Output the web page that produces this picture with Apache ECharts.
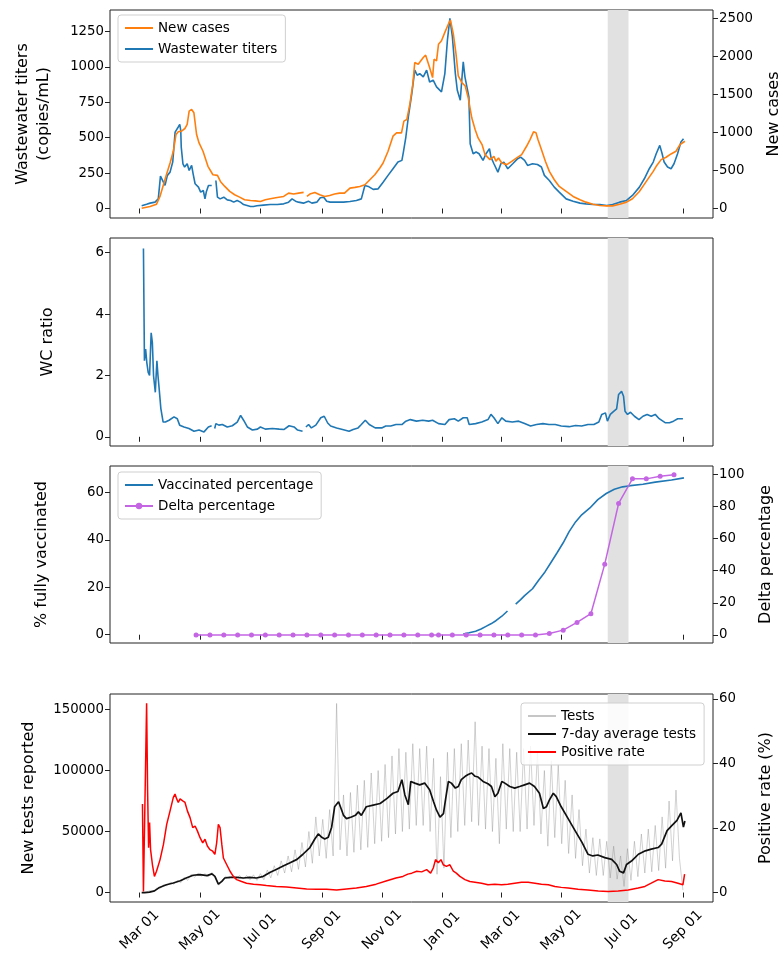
<!DOCTYPE html>
<html><head><meta charset="utf-8">
<script src="https://cdn.jsdelivr.net/npm/echarts@6/dist/echarts.min.js"></script>
<style>html,body{margin:0;padding:0;background:#fff}#c{width:784px;height:968px}</style>
</head><body><div id="c"></div>
<script>
// ---- data (x values are days since 2020-03-01) ----
const xTickDates = ['2020-03-01','2020-05-01','2020-07-01','2020-09-01','2020-11-01','2021-01-01','2021-03-01','2021-05-01','2021-07-01','2021-09-01'];
const bandDates = ['2021-06-17','2021-07-08'];

const wwDays = [2,4,7,10.5,15.5,18.8,21,23,25.6,28,30.7,33.4,35.8,37.5,39,40.5,41.5,42,43.7,45.4,48,50,52.5,54,56,57.7,59.4,61.6,64.3,66,67.3,69.5,72.8,74.5,77,78.6,81.3,85,88.5,91.8,95,98.5,101.8,105,108.5,112,115,118.5,125,132,139,145.5,150.5,154,157.5,160.5,165.5,170.5,174,179,182.5,186,189,192.5,199,206,212.5,219,224,227.6,231,236,241,246,251,256,261,265,266.5,269,271.5,275,278,280.5,283,286.6,290,293,296.6,300,305,308.4,311,313.5,316,319,321,324,325.5,327,328.7,330,332.7,334,337,340,343,347,350,353.5,355,358,362,365,368,372,377,382,385,389,392,397,402,406,409,414,419,424,431,438,445,451,458,465,472,478,485,492,498,505,510,515,519,522,525.6,528,530,533.5,537,540,543.6,547,549.6];
const wwTiters = [20,21,30,38,45,68,229,222,163,234,257,328,540,540,576,595,552,434,316,293,316,269,304,245,175,163,151,116,127,68,116,163,163,null,198,80,68,80,61,57,45,57,45,28,21,14,14,19,24,28,28,33,45,68,52,45,38,52,38,45,76,80,52,45,45,45,50,57,68,163,156,135,139,186,234,281,328,340,399,505,647,812,977,941,953,930,977,894,906,859,824,953,1189,1343,1213,953,835,765,906,1036,930,918,788,458,387,399,387,340,387,422,363,316,257,316,328,281,316,352,363,340,304,316,311,293,234,198,151,116,68,52,38,33,28,28,21,28,45,57,92,151,210,281,328,387,446,387,328,293,281,316,387,470,493];

const caseDays = [2,4,10.5,17,20.5,24,27,30.7,34,36.7,39,42.3,45.7,48,50,52.5,54.8,57.5,60,64,69,74,78.6,81.6,86,91,96,101,106,112,117,122,127,132,139,145.5,150.5,155.6,160.6,165.7,167.3,169,172,177,182,187,192,197,202,207,212.5,217.5,222.5,227.6,232.6,237.6,242.7,246,251,256,259.6,264.6,267,270,273,276,278,281.5,283,286.6,289,293,296,297.5,300,302,305,308.4,312,314,317,319.7,322,325.6,329,332,335.6,339,342,346,349,354,358,360,362.6,365.9,371,376,381,386,391,394.5,398,400.5,402.5,406,410,414,419,424,431,438,445,451,458,465,472,478,485,492,498,505,512,519,522,527,532,537,542,546,551];
const newCases = [4,13,26,57,159,313,445,600,754,975,1010,1019,1054,1107,1283,1305,1261,975,864,754,556,445,437,357,291,225,181,150,115,106,101,93,115,128,146,159,203,190,203,212,null,159,190,212,181,159,172,190,203,203,269,278,291,313,379,445,534,600,754,953,997,997,1151,1173,1371,1636,1923,1901,1879,1989,2020,1857,1724,1967,1945,2165,2209,2320,2430,2483,2298,2033,1746,1658,1614,1460,1195,1041,930,842,710,644,688,622,666,600,578,622,666,710,820,908,1010,997,908,776,622,489,379,291,225,159,115,84,57,40,35,35,57,84,128,225,357,489,556,644,675,719,754,842,886];

const wcDays = [3.8,4.8,6,7.2,8.6,10,11.6,12.8,14,15.8,17.4,18.5,19.7,21.4,23.7,26,29.7,34.7,38,40.4,44.8,49.8,54.9,60,65,69.4,72.7,74,75.8,77,80,83.5,88.5,93.6,98.6,102,105,108.8,113.9,119,122,127,134,141,146,151,156,159.6,164.6,166.5,168,170.7,173.5,178,183,186.5,190,193,199,205,211.6,215.7,220.7,224,228,232,238,244.6,248.7,253.7,259,265,269,273.5,279.7,286,292,296,302,308.5,312.7,318,322,327,331,333,339.5,345.7,352,355,358,362,366,370,376.6,383,389,395,401,407.5,413.7,420,426,434,440.5,446.7,453,459,464,467,470.7,472.7,475.6,479,482,484,487,489,490.5,493,496,500,504.6,508.6,512.8,517,521,525,531,535.4,539.5,543.7,549];
const wcRatio = [6.14,2.48,2.86,2.42,2.1,2.0,3.39,3.07,1.99,1.45,2.48,1.99,1.56,0.92,0.48,0.48,0.54,0.65,0.59,0.38,0.32,0.27,0.18,0.22,0.16,0.32,0.36,null,0.27,0.43,0.38,0.40,0.32,0.36,0.48,0.70,0.54,0.32,0.22,0.25,0.32,0.25,0.27,0.25,0.24,0.36,0.32,0.22,0.18,null,0.32,0.40,0.29,0.38,0.62,0.67,0.45,0.35,0.29,0.24,0.18,0.24,0.29,0.40,0.54,0.40,0.29,0.29,0.35,0.35,0.40,0.40,0.51,0.56,0.51,0.54,0.51,0.54,0.43,0.40,0.56,0.59,0.51,0.62,0.62,0.40,0.43,0.48,0.56,0.73,0.62,0.43,0.62,0.51,0.48,0.51,0.43,0.35,0.40,0.43,0.40,0.40,0.35,0.33,0.37,0.35,0.40,0.40,0.48,0.73,0.78,0.51,0.73,0.83,0.91,1.38,1.48,1.32,0.83,0.73,0.80,0.67,0.56,0.67,0.73,0.67,0.73,0.59,0.46,0.46,0.51,0.59,0.59];

const vaxDays = [327,333,339.5,345,350,355,360,366,371.7,376,380,385,389,397,403,409.6,415.8,422,428,434,440.5,446.7,455,463,471.5,479.7,488,496,508.6,521,537.5,550];
const vaxPct = [0.3,0.8,1.5,2.4,3.5,4.6,5.9,7.8,10,null,12.9,14.8,16.5,19.4,22.9,26.5,30.6,34.7,38.8,43.5,47.6,50.6,53.5,57,59.6,61.4,62.4,62.9,63.5,64.4,65.3,66.2];

const deltaDays = [57,71,85,99,113,127,141,155,169,183,197,211,225,239,253,267,281,295,302,316,330,344,358,372,386,400,414,428,442,456,470,484,498,512,526,540];
const deltaPct = [0,0,0,0,0,0,0,0,0,0,0,0,0,0,0,0,0,0,0,0,0,0,0,0,0,0,0.9,3,7.8,13.2,44,81.7,97,97,98.6,99.6];

// daily tests: samples every half week (peak / trough of weekly cycle)
const testStartDay = 3, testStepDays = 3.5;
const tests = [300,200,1500,800,3500,3000,6500,5500,8500,6800,10000,8000,12500,10000,15000,12500,16000,13500,15500,13000,16500,13000,6000,10000,13500,11500,14000,11500,14000,11000,14000,10500,14500,10000,15500,10500,18500,12000,22000,14000,26000,16000,30000,17000,35000,19000,41000,21000,50000,24000,62000,30000,60000,28000,68000,30000,155000,35000,80000,30000,82000,33000,88000,35000,92000,37000,98000,40000,100000,42000,105000,45000,112000,48000,118000,50000,115000,52000,122000,55000,118000,55000,120000,50000,110000,15000,95000,20000,115000,45000,118000,50000,122000,55000,125000,58000,140000,55000,120000,52000,118000,50000,110000,40000,122000,52000,118000,50000,115000,50000,118000,52000,120000,55000,115000,48000,100000,38000,108000,45000,105000,40000,92000,32000,80000,28000,68000,22000,52000,16000,45000,14000,44000,14000,42000,12000,38000,11000,30000,5000,36000,10000,42000,13000,48000,16000,52000,17000,55000,18000,62000,20000,75000,26000,84000,28000,2000];

const avgDays = [2,5,10,15,20,27,34,41,47,54,61,68,73,76,79.5,83,86,91,98,105,111,118,125,132,138,145,152,159,165,172,177,180.5,184,187,190.6,194,197,201,203,206,209,214,218,221,224,229,236,243,250,256,261,265,268,271.5,274,278,283,288,293,297,300,303.5,307,309,312,315,319,322,325,329,332,335.5,339,342,347,352,355.5,359,362,366,369,374,379,384,389,394,399,404,408,411,414,418,421,426,433,440,447,453,458,463,470,477,482,485,489,492,497,504,511,517,524,527.5,533,538,543,547,549.5,551];
const avgTests = [0,0,300,1400,4200,6400,7800,9700,11900,14200,14700,13900,15300,13300,6900,9200,11900,12500,12500,11900,12500,11900,13300,16700,18900,21700,24400,27200,31400,36900,43900,48000,45300,43900,45300,53600,70300,74400,73000,63300,60600,61900,63300,66100,63300,70300,71700,73000,77200,81400,82800,92500,80000,72000,91100,89700,88300,89700,84200,74400,67500,61900,64700,75800,91100,89700,85600,86900,92500,95300,96700,98000,95300,94700,91100,89200,86900,78600,81400,91100,89700,86900,85600,86900,88300,89700,86900,81400,68900,70300,75800,81400,78600,70300,60600,50800,41100,31400,30000,30800,28600,27200,23000,17500,16100,23000,25800,31400,34200,35600,36900,39700,50800,55000,59200,65300,53600,58600];

const posDays = [2.8,3.8,5.5,7,8,9,10,11,12.9,14.9,17,20.6,24,27.3,30.7,34,35.7,37.4,39,40.8,43.5,45.8,48.2,50.9,53.6,56,58.3,61,63.7,66,68.4,71,73.8,76,77.8,79.5,81.2,83,84.6,88,91.3,94.6,98,103,108,115,121.6,128,138,148.5,158.6,168.7,179,189,199,209,219,229,239,249,259,266,271,275,280,285,290,294,296.7,299,301.8,304.5,306.8,310,313.5,317,320,323.6,328.7,333.7,338.8,345.5,352,358.9,365.7,372,379,385.9,392.6,399.4,406,413,419.6,426,433,443,453,463.4,473.5,483.6,493.7,503.8,510.6,517,524,530.7,537.5,544,549,550.7];
const posRate = [27.4,0.3,0.3,58.6,31.6,13.9,21.7,13.3,8.6,5,6.6,10.2,14.9,21.1,25.3,29.5,30.5,29,27.9,29,28.4,27.9,25.3,23.2,20.1,20.6,19.1,17,15.4,16.5,14.4,13.3,12.8,11.8,15.4,21.1,20.1,14.9,10.7,8.6,6.6,5,4,3.4,2.9,2.6,2.4,2.2,1.9,1.7,1.4,1.1,1.0,1.0,0.8,1.1,1.4,1.9,2.6,3.6,4.5,5,5.7,6,6.6,6.4,7.1,6,7.6,10.2,9.2,10.2,8.6,8.1,8.6,6.6,6,5,4,3.4,3.2,2.9,2.4,2.6,2.4,2.6,2.9,3.2,3.2,2.9,2.6,2.4,1.9,1.6,1.4,1.0,0.8,0.5,0.3,0.5,0.8,1.4,1.9,2.9,4,3.6,3.4,2.9,2.4,5.7];

// ---- helpers ----
const DAY = 86400000, BASE = Date.UTC(2020, 2, 1);
const ts = d => BASE + d * DAY;
const parseDate = s => { const p = s.split('-').map(Number); return Date.UTC(p[0], p[1] - 1, p[2]); };
const pairs = (days, vals) => days.map((d, i) => [ts(d), vals[i] == null ? '-' : vals[i]]);
const testDays = tests.map((_, i) => testStartDay + i * testStepDays);
const MON = ['Jan','Feb','Mar','Apr','May','Jun','Jul','Aug','Sep','Oct','Nov','Dec'];
const xTicks = xTickDates.map(parseDate);
const band = bandDates.map(parseDate);
const XMIN = ts(-30), XMAX = ts(579.4);
const FONT = 'DejaVu Sans';

const grids = [
  {left: 110, top: 10, width: 603, height: 208},
  {left: 110, top: 238, width: 603, height: 208},
  {left: 110, top: 466, width: 603, height: 177},
  {left: 110, top: 694, width: 603, height: 208}
].map(g => Object.assign(g, {show: true, borderColor: '#222', borderWidth: 1, containLabel: false, outerBoundsMode: 'none'}));

const xAxes = grids.map((g, i) => ({
  type: 'value', gridIndex: i, min: XMIN, max: XMAX,
  axisLine: {show: false}, splitLine: {show: false},
  axisTick: {show: true, customValues: xTicks, length: 5, lineStyle: {color: '#222', width: 1}},
  axisLabel: {show: i === 3, customValues: xTicks, rotate: 45, align: 'center', verticalAlign: 'middle',
    fontSize: 14, color: '#000', fontFamily: FONT, margin: 28,
    formatter: v => MON[new Date(v).getUTCMonth()] + ' 01'}
}));

function yAx(grid, pos, min, max, ticks, name, gap) {
  return {
    type: 'value', gridIndex: grid, position: pos, min: min, max: max,
    axisLine: {show: false}, splitLine: {show: false},
    axisTick: {show: true, customValues: ticks, length: 5, lineStyle: {color: '#222'}},
    axisLabel: {customValues: ticks, fontSize: 13.3, color: '#000', fontFamily: FONT, margin: 6, formatter: v => String(v)},
    name: name, nameLocation: 'middle', nameRotate: 90, nameGap: gap,
    nameTextStyle: {fontSize: 16, color: '#000', fontFamily: FONT, lineHeight: 21}
  };
}

const yAxes = [
  yAx(0, 'left', -67, 1402, [0,250,500,750,1000,1250], 'Wastewater titers\n(copies/mL)', 56),
  yAx(0, 'right', -125, 2615, [0,500,1000,1500,2000,2500], 'New cases', 42),
  yAx(1, 'left', -0.3, 6.48, [0,2,4,6], 'WC ratio', 52),
  yAx(2, 'left', -3.5, 71.2, [0,20,40,60], '% fully vaccinated', 58),
  yAx(2, 'right', -5, 105, [0,20,40,60,80,100], 'Delta percentage', 42),
  yAx(3, 'left', -7750, 162750, [0,50000,100000,150000], 'New tests reported', 71),
  yAx(3, 'right', -2.93, 61.5, [0,20,40,60], 'Positive rate (%)', 42)
];

function bandSeries(i, yi) {
  return {type: 'line', xAxisIndex: i, yAxisIndex: yi, data: [], z: 0, silent: true,
    markArea: {silent: true, itemStyle: {color: '#e1e1e1'}, data: [[{xAxis: band[0]}, {xAxis: band[1]}]]}};
}
function line(name, i, yi, data, color, width, extra) {
  return Object.assign({type: 'line', name: name, xAxisIndex: i, yAxisIndex: yi, data: data,
    showSymbol: false, symbol: 'none', z: 3, color: color,
    lineStyle: {color: color, width: width}, connectNulls: false}, extra || {});
}

const series = [
  bandSeries(0, 0), bandSeries(1, 2), bandSeries(2, 3), bandSeries(3, 5),
  line('Wastewater titers', 0, 0, pairs(wwDays, wwTiters), '#1f77b4', 1.6),
  line('New cases', 0, 1, pairs(caseDays, newCases), '#ff7f0e', 1.6, {z: 4}),
  line('WC ratio', 1, 2, pairs(wcDays, wcRatio), '#1f77b4', 1.6),
  line('Vaccinated percentage', 2, 3, pairs(vaxDays, vaxPct), '#1f77b4', 1.6),
  line('Delta percentage', 2, 4, pairs(deltaDays, deltaPct), '#c466e3', 1.5,
    {showSymbol: true, symbol: 'circle', symbolSize: 5, itemStyle: {color: '#c466e3'}, z: 4}),
  line('Tests', 3, 5, pairs(testDays, tests), 'rgba(128,128,128,0.45)', 0.8),
  line('7-day average tests', 3, 5, pairs(avgDays, avgTests), '#111', 1.7, {z: 4}),
  line('Positive rate', 3, 6, pairs(posDays, posRate), '#ff0000', 1.5, {z: 5})
];

function legend(names, pos, markers) {
  return Object.assign({
    orient: 'vertical', itemWidth: 28, itemHeight: 8, itemGap: 7, itemTextGap: 10,
    padding: [6, 8, 6, 6], borderColor: '#cfcfcf', borderWidth: 1, borderRadius: 3,
    backgroundColor: 'rgba(255,255,255,0.85)',
    textStyle: {fontSize: 13.5, color: '#000', fontFamily: FONT},
    data: names.map(n => ({name: n, itemStyle: {opacity: (markers && markers.indexOf(n) >= 0) ? 1 : 0}}))
  }, pos);
}

const option = {
  animation: false,
  backgroundColor: '#fff',
  textStyle: {fontFamily: FONT},
  grid: grids, xAxis: xAxes, yAxis: yAxes,
  legend: [
    legend(['New cases', 'Wastewater titers'], {left: 118, top: 15}),
    legend(['Vaccinated percentage', 'Delta percentage'], {left: 118, top: 472}, ['Delta percentage']),
    legend(['Tests', '7-day average tests', 'Positive rate'], {left: 521, top: 703, itemGap: 4})
  ],
  series: series
};

const chart = echarts.init(document.getElementById('c'), null, {renderer: 'canvas'});
chart.setOption(option);
</script></body></html>
